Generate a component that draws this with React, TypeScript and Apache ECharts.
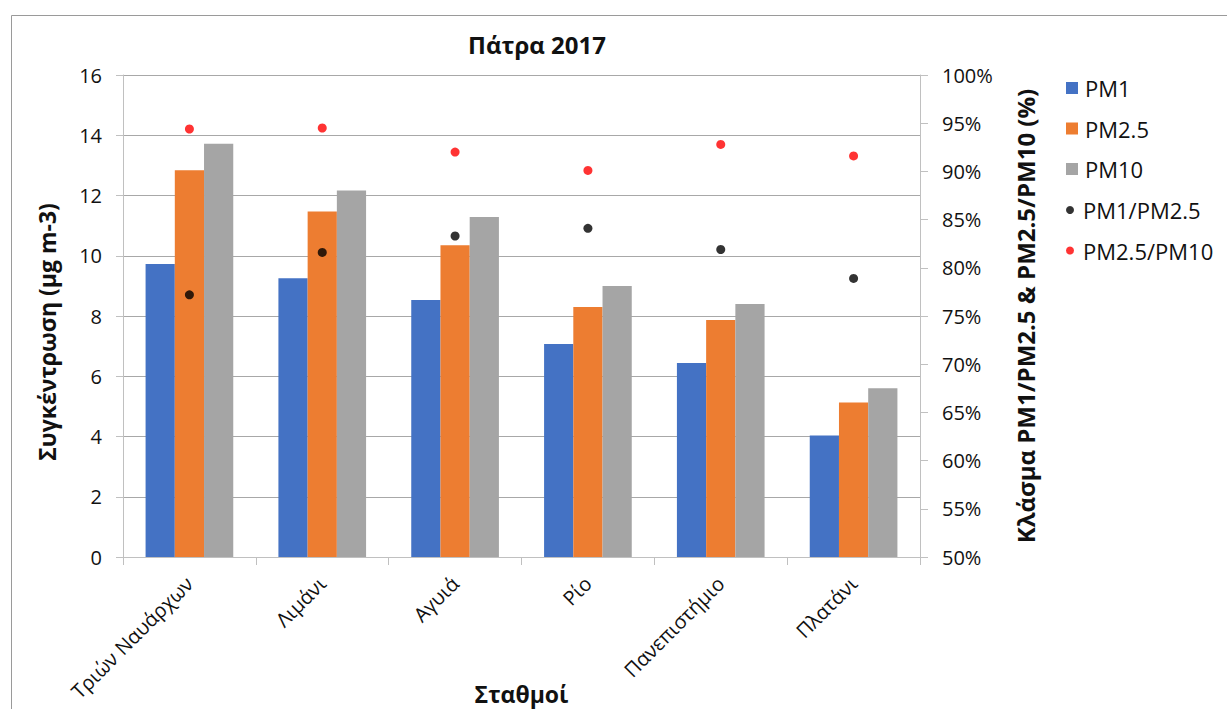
import React, { useEffect, useRef } from "react";
import * as echarts from "echarts";

// Stations (x categories)
const stations = ["Τριών Ναυάρχων", "Λιμάνι", "Αγυιά", "Ρίο", "Πανεπιστήμιο", "Πλατάνι"];

// Mean concentrations (μg m-3)
const pm1 = [9.73, 9.25, 8.53, 7.07, 6.44, 4.03];
const pm25 = [12.84, 11.47, 10.35, 8.3, 7.87, 5.13];
const pm10 = [13.72, 12.17, 11.29, 9.0, 8.4, 5.6];

// Mass fractions (%)
const ratioPm1Pm25 = [77.2, 81.6, 83.3, 84.1, 81.9, 78.9];
const ratioPm25Pm10 = [94.4, 94.5, 92.0, 90.1, 92.8, 91.6];

const FONT = "'Open Sans', 'Noto Sans', sans-serif";
const TEXT = "#111";
const GRID = "#a8a8a8";
const AXIS = "#c0c0c0";

export default function App() {
  const ref = useRef<HTMLDivElement>(null);

  useEffect(() => {
    if (!ref.current) return;
    const chart = echarts.init(ref.current, undefined, { renderer: "svg" });
    chart.setOption({
      animation: false,
      backgroundColor: "#fff",
      textStyle: { fontFamily: FONT },
      title: {
        text: "Πάτρα 2017",
        left: 532,
        top: 27,
        textAlign: "center",
        textStyle: { fontFamily: FONT, fontSize: 24, fontWeight: "bold", color: TEXT },
      },
      graphic: [
        {
          type: "rect",
          left: 9,
          top: 13,
          shape: { x: 0, y: 0, width: 1300, height: 800 },
          style: { fill: "none", stroke: "#9a9a9a", lineWidth: 1 },
          silent: true,
        },
      ],
      legend: [
        {
          orient: "vertical",
          left: 1066,
          top: 77,
          padding: 0,
          itemWidth: 12,
          itemHeight: 12,
          itemGap: 18.5,
          icon: "rect",
          data: ["PM1", "PM2.5", "PM10"],
          textStyle: { fontFamily: FONT, fontSize: 22, color: TEXT, lineHeight: 22, padding: [0, 0, 0, 2] },
        },
        {
          orient: "vertical",
          left: 1066,
          top: 199,
          padding: 0,
          itemWidth: 12,
          itemHeight: 8,
          itemGap: 18.5,
          icon: "circle",
          data: ["PM1/PM2.5", "PM2.5/PM10"],
          textStyle: { fontFamily: FONT, fontSize: 22, color: TEXT, lineHeight: 22, padding: [0, 0, 0, 2] },
        },
      ],
      grid: {
        left: 123,
        right: 307,
        top: 75,
        height: 482,
        containLabel: false,
        outerBoundsMode: "none",
      },
      xAxis: {
        type: "category",
        data: stations,
        name: "Σταθμοί",
        nameLocation: "middle",
        nameGap: 126,
        nameMoveOverlap: false,
        nameTextStyle: { fontFamily: FONT, fontSize: 23, fontWeight: "bold", color: TEXT, lineHeight: 22 },
        axisLine: { lineStyle: { color: AXIS, width: 1 } },
        axisTick: { show: true, length: 8, lineStyle: { color: AXIS } },
        axisLabel: { rotate: 45, margin: 23, fontFamily: FONT, fontSize: 20, color: TEXT },
      },
      yAxis: [
        {
          type: "value",
          min: 0,
          max: 16,
          interval: 2,
          name: "Συγκέντρωση (μg m-3)",
          nameLocation: "middle",
          nameGap: 65,
          nameMoveOverlap: false,
          nameTextStyle: {
            fontFamily: FONT,
            fontSize: 23,
            fontWeight: "bold",
            color: TEXT,
            padding: [0, 32, 0, 0],
          },
          axisLine: { show: true, lineStyle: { color: AXIS } },
          axisTick: { show: true, length: 7, lineStyle: { color: AXIS } },
          axisLabel: { margin: 21, fontFamily: FONT, fontSize: 20, color: TEXT },
          splitLine: { show: true, lineStyle: { color: GRID, width: 1 } },
        },
        {
          type: "value",
          min: 50,
          max: 100,
          interval: 5,
          position: "right",
          name: "Κλάσμα PM1/PM2.5 & PM2.5/PM10 (%)",
          nameLocation: "middle",
          nameGap: 93,
          nameRotate: 90,
          nameMoveOverlap: false,
          nameTextStyle: { fontFamily: FONT, fontSize: 24, fontWeight: "bold", color: TEXT },
          axisLine: { show: true, lineStyle: { color: AXIS } },
          axisTick: { show: true, length: 8, lineStyle: { color: AXIS } },
          axisLabel: { margin: 22, fontFamily: FONT, fontSize: 20, color: TEXT, formatter: "{value}%" },
          splitLine: { show: false },
        },
      ],
      series: [
        {
          name: "PM1",
          type: "bar",
          data: pm1,
          itemStyle: { color: "#4472C4" },
          barGap: "0%",
          barCategoryGap: "34%",
        },
        { name: "PM2.5", type: "bar", data: pm25, itemStyle: { color: "#ED7D31" } },
        { name: "PM10", type: "bar", data: pm10, itemStyle: { color: "#A5A5A5" } },
        {
          name: "PM1/PM2.5",
          type: "scatter",
          yAxisIndex: 1,
          data: ratioPm1Pm25,
          symbol: "circle",
          symbolSize: 9,
          itemStyle: { color: "#000000" },
          z: 5,
        },
        {
          name: "PM2.5/PM10",
          type: "scatter",
          yAxisIndex: 1,
          data: ratioPm25Pm10,
          symbol: "circle",
          symbolSize: 9,
          itemStyle: { color: "#FF0000" },
          z: 5,
        },
      ],
    });
    return () => chart.dispose();
  }, []);

  return (
    <div
      ref={ref}
      style={{ position: "fixed", left: 0, top: 0, width: 1227, height: 709, background: "#fff" }}
    />
  );
}
